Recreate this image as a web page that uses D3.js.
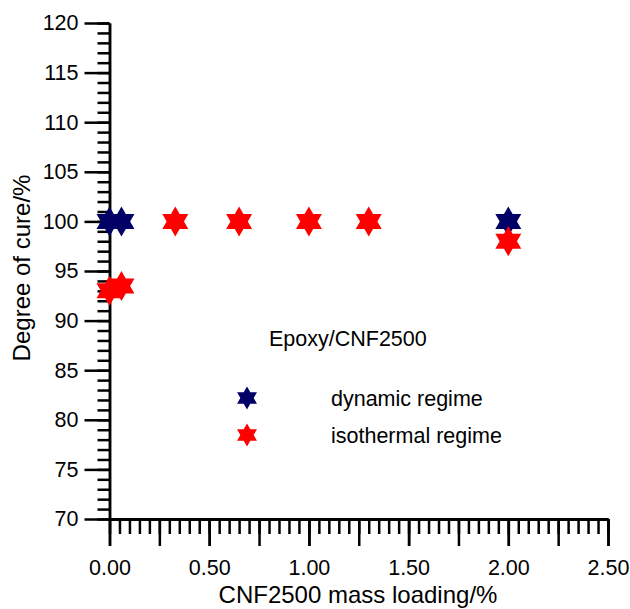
<!DOCTYPE html>
<html>
<head>
<meta charset="utf-8">
<script src="https://cdn.jsdelivr.net/npm/d3@7"></script>
<style>
  html, body { margin: 0; padding: 0; background: #fff; }
  svg { display: block; font-family: "Liberation Sans", Arial, Helvetica, sans-serif; }
</style>
</head>
<body>
<svg id="chart" width="630" height="609"></svg>
<script>
// ---- data ----
const dynamicX = [0, 0.06, 2.0];
const dynamicY = [100, 100, 100];
const isothermalX = [0, 0.06, 0.33, 0.65, 1.0, 1.3, 2.0];
const isothermalY = [93, 93.5, 100, 100, 100, 100, 98];
const xTickLabels = [0, 0.5, 1.0, 1.5, 2.0, 2.5];
const yTickLabels = [70, 75, 80, 85, 90, 95, 100, 105, 110, 115, 120];
const seriesNames = ["dynamic regime", "isothermal regime"];
const annotation = "Epoxy/CNF2500";
const xTitle = "CNF2500 mass loading/%";
const yTitle = "Degree of cure/%";

const colors = { dynamic: "#000066", isothermal: "#ff0000" };

const svg = d3.select("#chart");
const x = d3.scaleLinear().domain([0, 2.5]).range([109.5, 608]);
const y = d3.scaleLinear().domain([70, 120]).range([519, 23]);

// hexagram symbol
const hexagram = {
  draw(ctx, size) {
    const R = Math.sqrt(size);
    const r = R / Math.sqrt(3);
    for (let i = 0; i < 12; i++) {
      const a = -Math.PI / 2 + i * Math.PI / 6;
      const rad = i % 2 === 0 ? R : r;
      const px = rad * Math.cos(a), py = rad * Math.sin(a);
      if (i === 0) ctx.moveTo(px, py); else ctx.lineTo(px, py);
    }
    ctx.closePath();
  }
};

const axisStroke = 2.5;

// ---- Y axis ----
const gy = svg.append("g").attr("transform", `translate(${x(0)},0)`);
gy.call(d3.axisLeft(y).tickValues(d3.range(70, 121, 1)).tickSize(12).tickSizeOuter(0).tickFormat(""));
const gyMaj = svg.append("g").attr("transform", `translate(${x(0)},0)`);
gyMaj.call(d3.axisLeft(y).tickValues(yTickLabels).tickSize(25).tickSizeOuter(0).tickPadding(6).tickFormat(d3.format("d")));

// ---- X axis ----
const gx = svg.append("g").attr("transform", `translate(0,${y(70)})`);
gx.call(d3.axisBottom(x).tickValues(d3.range(0, 51, 1).map(d => d * 0.05)).tickSize(15).tickSizeOuter(0).tickFormat(""));
const gxMid = svg.append("g").attr("transform", `translate(0,${y(70)})`);
gxMid.call(d3.axisBottom(x).tickValues(d3.range(0, 11, 1).map(d => d * 0.25)).tickSize(27).tickSizeOuter(0).tickFormat(""));
const gxMaj = svg.append("g").attr("transform", `translate(0,${y(70)})`);
gxMaj.call(d3.axisBottom(x).tickValues(xTickLabels).tickSize(27).tickSizeOuter(0).tickPadding(14).tickFormat(d3.format(".2f")));

svg.selectAll(".domain, .tick line").attr("stroke", "#000").attr("stroke-width", axisStroke);
svg.selectAll(".tick text").attr("fill", "#000").attr("font-size", 21.5)
  .attr("font-family", "'Liberation Sans', Arial, sans-serif");

// ---- axis titles ----
svg.append("text").attr("x", 358).attr("y", 603).attr("text-anchor", "middle")
  .attr("font-size", 24).attr("fill", "#000").text(xTitle);
svg.append("text").attr("transform", "translate(30,268) rotate(-90)").attr("text-anchor", "middle")
  .attr("font-size", 24).attr("fill", "#000").text(yTitle);

// ---- points ----
const sym = d3.symbol().type(hexagram).size(15 * 15);
svg.append("g").selectAll("path").data(dynamicX.map((d, i) => [d, dynamicY[i]])).join("path")
  .attr("transform", d => `translate(${x(d[0])},${y(d[1])})`)
  .attr("d", sym).attr("fill", colors.dynamic);
svg.append("g").selectAll("path").data(isothermalX.map((d, i) => [d, isothermalY[i]])).join("path")
  .attr("transform", d => `translate(${x(d[0])},${y(d[1])})`)
  .attr("d", sym).attr("fill", colors.isothermal);

// ---- annotation & legend ----
svg.append("text").attr("x", 269).attr("y", 346).attr("font-size", 21.5).attr("fill", "#000").text(annotation);
const legSym = d3.symbol().type(hexagram).size(11.5 * 11.5);
const legColors = [colors.dynamic, colors.isothermal];
const legY = [398, 435];
seriesNames.forEach((name, i) => {
  svg.append("path").attr("transform", `translate(247,${legY[i]})`).attr("d", legSym).attr("fill", legColors[i]);
  svg.append("text").attr("x", 331).attr("y", legY[i]).attr("dy", "0.35em")
    .attr("font-size", 21.5).attr("fill", "#000").text(name);
});
</script>
</body>
</html>
